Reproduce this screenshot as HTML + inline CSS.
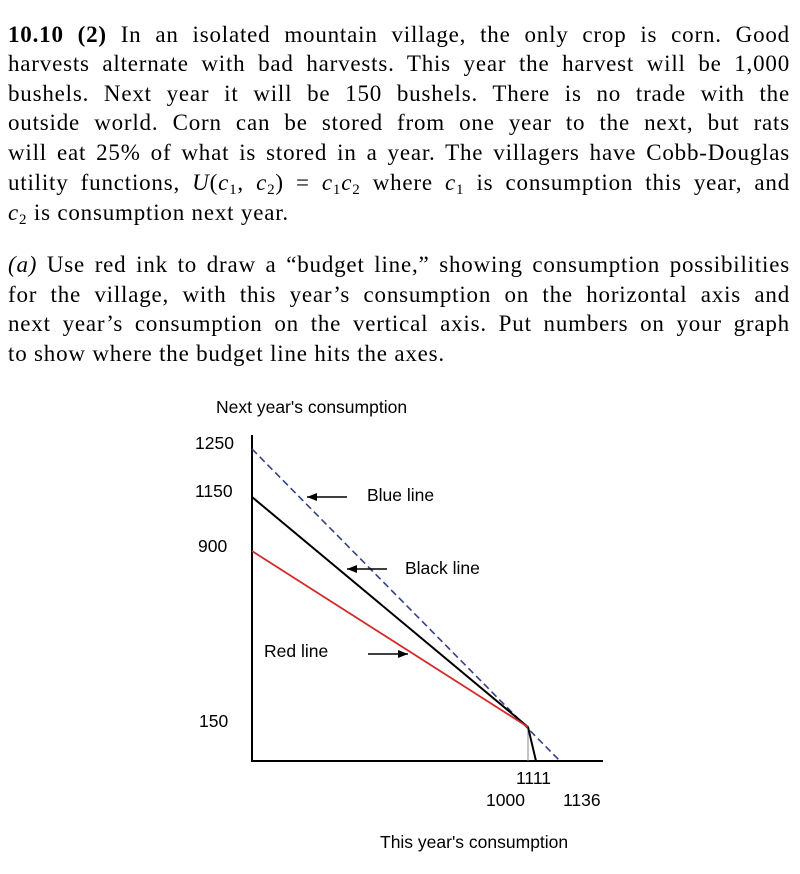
<!DOCTYPE html>
<html><head><meta charset="utf-8"><style>
body{margin:0;width:800px;height:874px;background:#fff;overflow:hidden;position:relative;font-family:"Liberation Serif",serif;}
.l{position:absolute;left:8px;width:782px;font-size:23px;letter-spacing:0.8px;line-height:30px;height:30px;text-align:justify;text-align-last:justify;color:#000;white-space:nowrap;}
.e{text-align-last:left;}
.l sub{font-size:15px;line-height:0;vertical-align:-4px;}
.s{font-family:"Liberation Sans",sans-serif;font-size:17.5px;fill:#000;}
</style></head><body>
<div class="l" style="top:20px"><b>10.10 (2)</b> In an isolated mountain village, the only crop is corn. Good</div>
<div class="l" style="top:49px">harvests alternate with bad harvests. This year the harvest will be 1,000</div>
<div class="l" style="top:79px">bushels. Next year it will be 150 bushels. There is no trade with the</div>
<div class="l" style="top:108px">outside world. Corn can be stored from one year to the next, but rats</div>
<div class="l" style="top:138px">will eat 25% of what is stored in a year. The villagers have Cobb-Douglas</div>
<div class="l" style="top:168px">utility functions, <i>U</i>(<i>c</i><sub>1</sub>, <i>c</i><sub>2</sub>) = <i>c</i><sub>1</sub><i>c</i><sub>2</sub> where <i>c</i><sub>1</sub> is consumption this year, and</div>
<div class="l e" style="top:198px"><i>c</i><sub>2</sub> is consumption next year.</div>
<div class="l" style="top:250px"><i>(a)</i> Use red ink to draw a “budget line,” showing consumption possibilities</div>
<div class="l" style="top:280px">for the village, with this year’s consumption on the horizontal axis and</div>
<div class="l" style="top:309px">next year’s consumption on the vertical axis. Put numbers on your graph</div>
<div class="l e" style="top:339px">to show where the budget line hits the axes.</div>
<svg width="800" height="874" style="position:absolute;left:0;top:0">
<defs><marker id="a" markerWidth="10" markerHeight="8" refX="10" refY="4" orient="auto" markerUnits="userSpaceOnUse"><path d="M0,0L10,4L0,8z" fill="#000"/></marker></defs>
<text class="s" x="216" y="413">Next year's consumption</text>
<text class="s" x="195" y="449">1250</text>
<text class="s" x="195" y="497">1150</text>
<text class="s" x="198" y="552">900</text>
<text class="s" x="199" y="727">150</text>
<text class="s" x="516" y="784">1111</text>
<text class="s" x="486" y="806">1000</text>
<text class="s" x="563" y="806">1136</text>
<text class="s" x="380" y="848">This year's consumption</text>
<text class="s" x="367" y="501">Blue line</text>
<text class="s" x="405" y="574">Black line</text>
<text class="s" x="264" y="657">Red line</text>
<line x1="252" y1="435" x2="252" y2="762" stroke="#000" stroke-width="2"/>
<line x1="251" y1="761" x2="603" y2="761" stroke="#000" stroke-width="2"/>
<line x1="528" y1="727" x2="528" y2="761" stroke="#888" stroke-width="1"/>
<line x1="252" y1="449" x2="560" y2="761" stroke="#33418a" stroke-width="1.6" stroke-dasharray="7,4"/>
<polyline points="252,497 528,727 536,761" fill="none" stroke="#000" stroke-width="2"/>
<line x1="252" y1="551" x2="528" y2="727" stroke="#d42a2a" stroke-width="1.8"/>
<line x1="347" y1="497" x2="307" y2="497" stroke="#000" stroke-width="1.5" marker-end="url(#a)"/>
<line x1="387" y1="569" x2="347" y2="569" stroke="#000" stroke-width="1.5" marker-end="url(#a)"/>
<line x1="368" y1="654" x2="408" y2="654" stroke="#000" stroke-width="1.5" marker-end="url(#a)"/>
</svg>
</body></html>
